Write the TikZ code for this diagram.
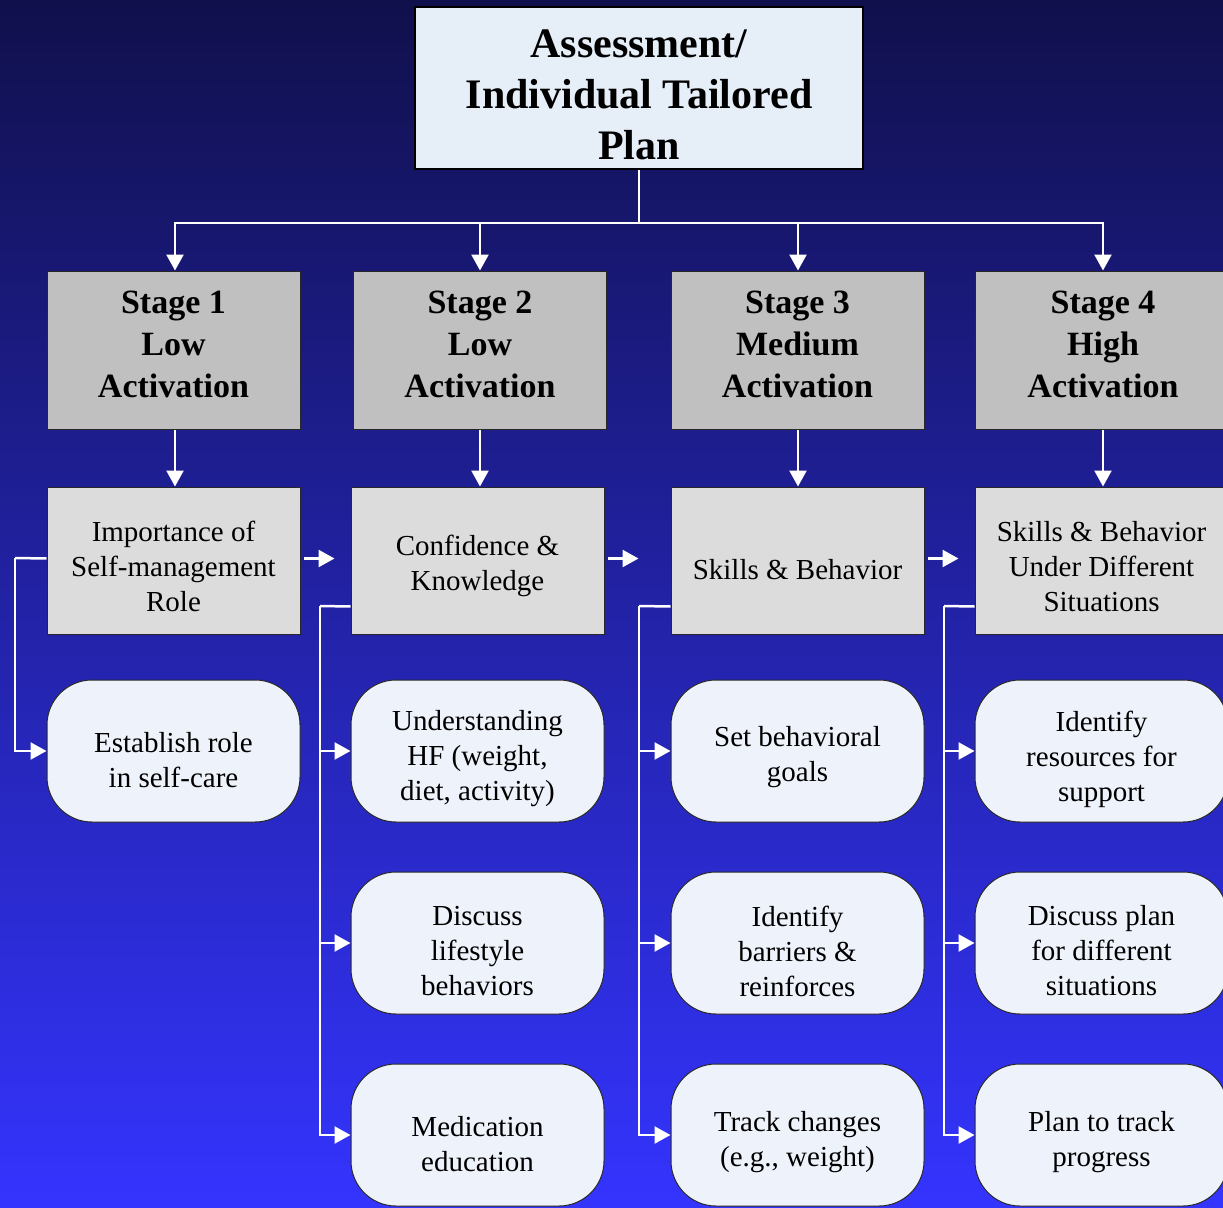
\documentclass[tikz,border=0pt]{standalone}
\usepackage{fontspec}
\setmainfont{Liberation Serif}
\usetikzlibrary{arrows.meta,calc}
\definecolor{bgtop}{RGB}{16,16,76}
\definecolor{bgbot}{RGB}{52,52,255}
\definecolor{titlefill}{RGB}{230,238,248}
\definecolor{stagefill}{RGB}{192,192,192}
\definecolor{rowfill}{RGB}{220,220,220}
\definecolor{roundfill}{RGB}{238,242,250}
\definecolor{edgegray}{RGB}{40,40,40}
\tikzset{
  titlebox/.style={draw=black,line width=2.5pt,fill=titlefill,minimum width=448pt,minimum height=162pt,inner sep=0pt},
  titletext/.style={inner sep=0pt,align=center,font=\fontsize{42}{51}\selectfont\bfseries},
  stagebox/.style={draw=edgegray,line width=1pt,fill=stagefill,minimum width=253pt,minimum height=158pt,inner sep=0pt},
  stagetext/.style={inner sep=0pt,align=center,font=\fontsize{34}{42}\selectfont\bfseries},
  rowbox/.style={draw=edgegray,line width=1pt,fill=rowfill,minimum width=253pt,minimum height=147pt,inner sep=0pt},
  roundbox/.style={draw=edgegray,line width=1pt,fill=roundfill,rounded corners=45pt,minimum width=253pt,minimum height=142pt,inner sep=0pt},
  bodytext/.style={inner sep=0pt,align=center,font=\fontsize{29}{35}\selectfont},
  wline/.style={draw=white,line width=2.5pt},
  warr/.style={draw=white,line width=2.5pt,-{Triangle[length=16pt,width=17pt]},color=white}
}
% \boxnode{box style}{text style}{name}{x}{y}{text shift down}{text}
\newcommand{\boxnode}[7]{%
  \node[#1] (#3) at (#4,#5) {};
  \node[#2] (#3t) at ($(#3.center)+(0,#6)$) {#7};
}
\begin{document}
\begin{tikzpicture}[x=1pt,y=-1pt]
\useasboundingbox (0,0) rectangle (1223,1207);
\shade[top color=bgtop,bottom color=bgbot] (0,0) rectangle (1223,1207);

% title
\boxnode{titlebox}{titletext}{T}{639}{88}{7}{Assessment/\\Individual Tailored\\Plan}

% stage boxes
\boxnode{stagebox}{stagetext}{S1}{173.5}{350}{-6}{Stage 1\\Low\\Activation}
\boxnode{stagebox}{stagetext}{S2}{480}{350}{-6}{Stage 2\\Low\\Activation}
\boxnode{stagebox}{stagetext}{S3}{797.5}{350}{-6}{Stage 3\\Medium\\Activation}
\boxnode{stagebox,minimum width=256pt}{stagetext}{S4}{1103}{350}{-6}{Stage 4\\High\\Activation}

% row 2
\boxnode{rowbox}{bodytext}{R1}{173.5}{560.5}{6}{Importance of\\Self-management\\Role}
\boxnode{rowbox}{bodytext}{R2}{477.5}{560.5}{5}{Confidence \&\\Knowledge}
\boxnode{rowbox}{bodytext}{R3}{797.5}{560.5}{9}{Skills \& Behavior}
\boxnode{rowbox}{bodytext}{R4}{1101.5}{560.5}{6}{Skills \& Behavior\\Under Different\\Situations}

% rounded boxes
\boxnode{roundbox}{bodytext}{P1a}{173.5}{751}{9}{Establish role\\in self-care}
\boxnode{roundbox}{bodytext}{P2a}{477.5}{751}{8}{Understanding\\HF (weight,\\diet, activity)}
\boxnode{roundbox}{bodytext}{P2b}{477.5}{943}{8}{Discuss\\lifestyle\\behaviors}
\boxnode{roundbox}{bodytext}{P2c}{477.5}{1135}{9}{Medication\\education}
\boxnode{roundbox}{bodytext}{P3a}{797.5}{751}{6}{Set behavioral\\goals}
\boxnode{roundbox}{bodytext}{P3b}{797.5}{943}{8}{Identify\\barriers \&\\reinforces}
\boxnode{roundbox}{bodytext}{P3c}{797.5}{1135}{7}{Track changes\\(e.g., weight)}
\boxnode{roundbox}{bodytext}{P4a}{1101.5}{751}{8}{Identify\\resources for\\support}
\boxnode{roundbox}{bodytext}{P4b}{1101.5}{943}{8}{Discuss plan\\for different\\situations}
\boxnode{roundbox}{bodytext}{P4c}{1101.5}{1135}{7}{Plan to track\\progress}

% title to stages
\coordinate (J) at (639,223);
\draw[wline] (T.south) -- (J);
\draw[warr] (J) -| ([xshift=1.5pt]S1.north);
\draw[warr] (J) -| (S2.north);
\draw[warr] (J) -| ([xshift=0.5pt]S3.north);
\draw[warr] (J) -| (S4.north);

% stages to row 2
\draw[warr] ([xshift=1.5pt]S1.south) -- ([xshift=1.5pt]S1.south |- R1.north);
\draw[warr] (S2.south) -- (S2.south |- R2.north);
\draw[warr] ([xshift=0.5pt]S3.south) -- ([xshift=0.5pt]S3.south |- R3.north);
\draw[warr] (S4.south) -- (S4.south |- R4.north);

% horizontal arrows between row-2 boxes
\draw[warr] ([xshift=3pt,yshift=2pt]R1.east) -- ++(31,0);
\draw[warr] ([xshift=3pt,yshift=2pt]R2.east) -- ++(31,0);
\draw[warr] ([xshift=3pt,yshift=2pt]R3.east) -- ++(31,0);

% column 1 bracket
\coordinate (B1) at (15,558);
\draw[wline] ([yshift=2pt]R1.west) -- (B1);
\draw[warr] (B1) |- (P1a.west);

% column 2-4 brackets
\coordinate (B2) at (320,606);
\coordinate (B3) at (639,606);
\coordinate (B4) at (944,606);
\draw[wline] ([yshift=28pt]R2.south west) -- (B2);
\draw[wline] ([yshift=28pt]R3.south west) -- (B3);
\draw[wline] ([yshift=28pt]R4.south west) -- (B4);
\foreach \c in {2,3,4}{
  \draw[warr] (B\c) |- (P\c a.west);
  \draw[warr] (B\c) |- (P\c b.west);
  \draw[warr] (B\c) |- (P\c c.west);
}
\end{tikzpicture}
\end{document}
